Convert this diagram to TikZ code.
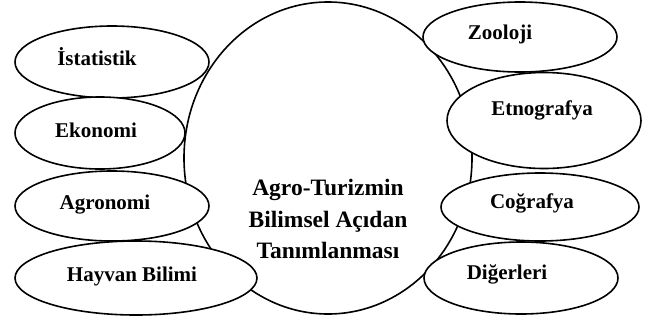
\documentclass[tikz,border=0pt]{standalone}
\usepackage{fontspec}
\setmainfont{Liberation Serif}[BoldFont={Liberation Serif Bold}]
\usetikzlibrary{shapes.geometric}
\begin{document}
\begin{tikzpicture}[x=1pt,y=-1pt,
  oval/.style={ellipse,draw,line width=1.6pt,fill=white,inner sep=0pt},
  lbl/.style={anchor=base,inner sep=0pt,font=\bfseries\fontsize{21}{24}\selectfont},
  ctr/.style={anchor=base,inner sep=0pt,font=\bfseries\fontsize{23.5}{28}\selectfont}]
\useasboundingbox (0,0) rectangle (648,322);
% central circle
\node[oval,minimum width=288pt,minimum height=312pt] (main) at (328,158) {};
% left ellipses
\node[oval,minimum width=194pt,minimum height=72pt] (ist) at (112,62) {};
\node[oval,minimum width=170pt,minimum height=72pt] (eko) at (100,133) {};
\node[oval,minimum width=194pt,minimum height=70pt] (agr) at (112,206) {};
\node[oval,minimum width=242pt,minimum height=74pt] (hay) at (136,278) {};
% right ellipses
\node[oval,minimum width=194pt,minimum height=70pt] (zoo) at (520,37) {};
\node[oval,minimum width=194pt,minimum height=96pt] (etn) at (544,120.5) {};
\node[oval,minimum width=198pt,minimum height=68pt] (cog) at (540,207) {};
\node[oval,minimum width=194pt,minimum height=72pt] (dig) at (521,278) {};
% labels
\node[lbl] (tist) at (97,65) {İstatistik};
\node[lbl] (teko) at (96,137) {Ekonomi};
\node[lbl] (tagr) at (105,209) {Agronomi};
\node[lbl] (thay) at (132,281) {Hayvan Bilimi};
\node[lbl] (tzoo) at (500,39) {Zooloji};
\node[lbl] (tetn) at (542,115) {Etnografya};
\node[lbl] (tcog) at (532,208) {Coğrafya};
\node[lbl] (tdig) at (507,279) {Diğerleri};
\node[ctr] (c1) at (328,195) {Agro-Turizmin};
\node[ctr] (c2) at (328,227) {Bilimsel Açıdan};
\node[ctr] (c3) at (328,258) {Tanımlanması};
\end{tikzpicture}
\end{document}
